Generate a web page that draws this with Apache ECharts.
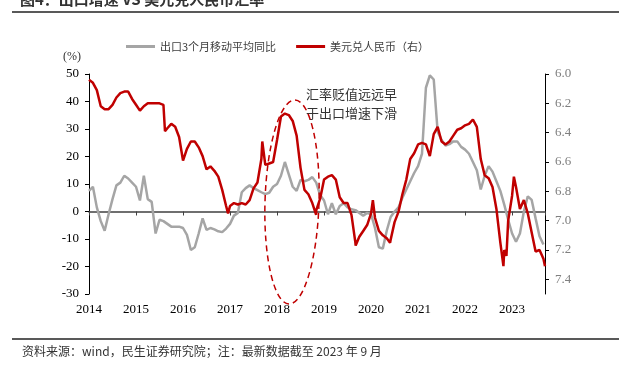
<!DOCTYPE html>
<html>
<head>
<meta charset="utf-8">
<title>出口增速 VS 美元兑人民币汇率</title>
<script src="https://cdn.jsdelivr.net/npm/echarts@6.0.0/dist/echarts.min.js"></script>
<style>
    html, body { margin: 0; padding: 0; background: #fff; }
    #chart { width: 619px; height: 365px; }
</style>
</head>
<body>
<div id="chart"></div>
<script>
    // 月度数据，从 2014-01 开始
    const startYear = 2014
    const endYear = 2023.7

    const grayName = '出口3个月移动平均同比'
    const redName = '美元兑人民币（右）'

    // 出口3个月移动平均同比 (%)
    const exportGrowth = [
        7.5, 9, 1.5, -3.5, -7, -1, 4.5, 9.5, 10.5, 13, 12, 10.5,
        9, 4, 13, 4.5, 3.5, -8, -3, -3.5, -4.5, -5.5, -5.5, -5.5,
        -6, -8.5, -14, -13, -8, -2.5, -6.7, -6, -6.5, -7.2, -7.5, -6.2,
        -4.5, -1.5, -0.5, 7, 8.5, 9.5, 8.5, 7.8, 7, 6.3, 6.8, 9,
        10, 13, 18, 13.5, 9, 7.5, 11.5, 11, 11.5, 12.5, 10.5, 6,
        4, -1, 3, -1, 2, 3, 1.5, 0.8, 0.5, -0.5, -1.5, -0.5,
        -1, -6, -13, -13.5, -7, -2, 0, 1.5, 5, 8, 11, 14,
        16.5, 21, 45, 49.5, 48, 29, 26, 24, 24.5, 25.5, 25.5, 23.5,
        22.5, 21, 18, 15, 8, 13, 16.5, 14.5, 11, 7.5, 2.5, -3,
        -8, -11, -8, 0, 5.5, 4.2, -2.5, -9, -12
    ]

    // 美元兑人民币，月初
    const usdCny = [
        6.04, 6.06, 6.11, 6.22, 6.24, 6.24, 6.21, 6.16, 6.13, 6.12, 6.12, 6.17,
        6.21, 6.25, 6.22, 6.20, 6.20, 6.20, 6.20, 6.21, 6.37, 6.34, 6.36, 6.43,
        6.59, 6.51, 6.46, 6.46, 6.50, 6.56, 6.65, 6.63, 6.66, 6.70, 6.79, 6.90,
        6.90, 6.88, 6.89, 6.88, 6.89, 6.86, 6.78, 6.74, 6.58, 6.62, 6.61, 6.60,
        6.45, 6.29, 6.27, 6.28, 6.32, 6.42, 6.64, 6.79, 6.82, 6.88, 6.93, 6.85,
        6.72, 6.70, 6.69, 6.72, 6.84, 6.88, 6.88, 6.96, 7.15, 7.11, 7.07, 7.03,
        6.95, 6.98, 7.07, 7.10, 7.12, 7.13, 7.01, 6.94, 6.82, 6.72, 6.58, 6.54,
        6.48, 6.47, 6.48, 6.56, 6.41, 6.36, 6.46, 6.48, 6.46, 6.42, 6.38, 6.37,
        6.35, 6.34, 6.31, 6.36, 6.58, 6.69, 6.71, 6.77, 6.92, 7.15, 7.20, 7.00,
        6.83, 6.77, 6.92, 6.86, 6.95, 7.08, 7.21, 7.20, 7.26
    ]

    // 月中的跳点
    const usdCnyExtraDates = [
        '2015-08-11', '2015-08-13', '2016-12-16', '2017-09-08', '2018-10-31',
        '2019-09-03', '2020-01-15', '2020-05-27', '2022-10-25', '2022-11-18',
        '2023-01-15', '2023-09-13'
    ]
    const usdCnyExtraValues = [
        6.21, 6.39, 6.95, 6.46, 6.96,
        7.17, 6.86, 7.15, 7.31, 7.24,
        6.70, 7.31
    ]

    function toYear (str) {
        const p = str.split('-').map(Number)
        return p[0] + (p[1] - 1) / 12 + (p[2] - 1) / 365
    }

    const grayData = exportGrowth.map((v, i) => [startYear + i / 12, v])
    const redData = usdCny.map((v, i) => [startYear + i / 12, v])
    for (let i = 0; i < usdCnyExtraDates.length; i++) {
        redData.push([toYear(usdCnyExtraDates[i]), usdCnyExtraValues[i]])
    }
    redData.sort((a, b) => a[0] - b[0])

    const serif = '"Liberation Serif", "Times New Roman", serif'
    const cjk = '"Noto Sans CJK SC", sans-serif'

    const chart = echarts.init(document.getElementById('chart'))

    const option = {
        animation: false,
        backgroundColor: '#fff',
        textStyle: { fontFamily: cjk },
        legend: {
            data: [grayName, redName],
            left: 121,
            top: 36,
            icon: 'rect',
            itemWidth: 29,
            itemHeight: 3,
            itemGap: 20,
            textStyle: { fontSize: 11, color: '#404040', fontFamily: cjk }
        },
        grid: { left: 89, right: 74, top: 74, bottom: 71 },
        xAxis: [
            {
                type: 'value',
                min: startYear,
                max: endYear,
                interval: 1,
                position: 'bottom',
                axisLine: { show: false },
                axisTick: { show: false },
                splitLine: { show: false },
                axisLabel: {
                    showMaxLabel: false,
                    margin: 9,
                    fontSize: 13,
                    fontFamily: serif,
                    color: '#000',
                    formatter: v => Number.isInteger(v) ? String(v) : ''
                }
            },
            {
                type: 'value',
                min: startYear,
                max: endYear,
                interval: 1,
                position: 'bottom',
                axisLine: { onZero: true, onZeroAxisIndex: 0, lineStyle: { color: '#404040', width: 1.5 } },
                axisTick: { show: true, length: 4, lineStyle: { color: '#404040' } },
                axisLabel: { show: false },
                splitLine: { show: false }
            }
        ],
        yAxis: [
            {
                type: 'value',
                position: 'left',
                min: -30,
                max: 50,
                interval: 10,
                axisLine: { show: true, lineStyle: { color: '#000' } },
                axisTick: { show: true, length: 4 },
                splitLine: { show: false },
                axisLabel: { fontFamily: serif, fontSize: 13, color: '#000', margin: 10 }
            },
            {
                type: 'value',
                position: 'right',
                inverse: true,
                min: 6.0,
                max: 7.5,
                interval: 0.2,
                axisLine: { show: true, lineStyle: { color: '#000' } },
                axisTick: { show: true, length: 4 },
                splitLine: { show: false },
                axisLabel: {
                    fontFamily: serif,
                    fontSize: 13,
                    color: '#7f7f7f',
                    margin: 10,
                    showMaxLabel: false,
                    formatter: v => v.toFixed(1)
                }
            }
        ],
        series: [
            {
                name: grayName,
                type: 'line',
                xAxisIndex: 0,
                yAxisIndex: 0,
                symbol: 'none',
                data: grayData,
                lineStyle: { color: '#a5a5a5', width: 2.5 },
                itemStyle: { color: '#a5a5a5' }
            },
            {
                name: redName,
                type: 'line',
                xAxisIndex: 0,
                yAxisIndex: 1,
                symbol: 'none',
                data: redData,
                lineStyle: { color: '#c00000', width: 2.5 },
                itemStyle: { color: '#c00000' }
            }
        ],
        graphic: [
            {
                type: 'text',
                left: 20,
                top: -8,
                style: { text: '图4：出口增速 VS 美元兑人民币汇率', font: 'bold 15px ' + cjk, fill: '#333' }
            },
            {
                type: 'line',
                shape: { x1: 12, y1: 12, x2: 619, y2: 12 },
                style: { stroke: '#595959', lineWidth: 2 }
            },
            {
                type: 'text',
                left: 63,
                top: 51,
                style: { text: '(%)', font: '12px ' + serif, fill: '#333' }
            },
            {
                type: 'text',
                left: 306,
                top: 85,
                style: {
                    text: '汇率贬值远远早\n于出口增速下滑',
                    font: '13px ' + cjk,
                    lineHeight: 19,
                    fill: '#333'
                }
            },
            {
                type: 'ellipse',
                shape: { cx: 292, cy: 202, rx: 27, ry: 102 },
                rotation: -0.03,
                originX: 292,
                originY: 202,
                style: { fill: null, stroke: '#c00000', lineWidth: 1.5, lineDash: [6, 4] },
                z: 100
            },
            {
                type: 'line',
                shape: { x1: 12, y1: 339, x2: 619, y2: 339 },
                style: { stroke: '#595959', lineWidth: 2 }
            },
            {
                type: 'text',
                left: 22,
                top: 345,
                style: {
                    text: '资料来源：wind，民生证券研究院；注：最新数据截至 2023 年 9 月',
                    font: '12px ' + cjk,
                    fill: '#333'
                }
            }
        ]
    }

    chart.setOption(option)
</script>
</body>
</html>
